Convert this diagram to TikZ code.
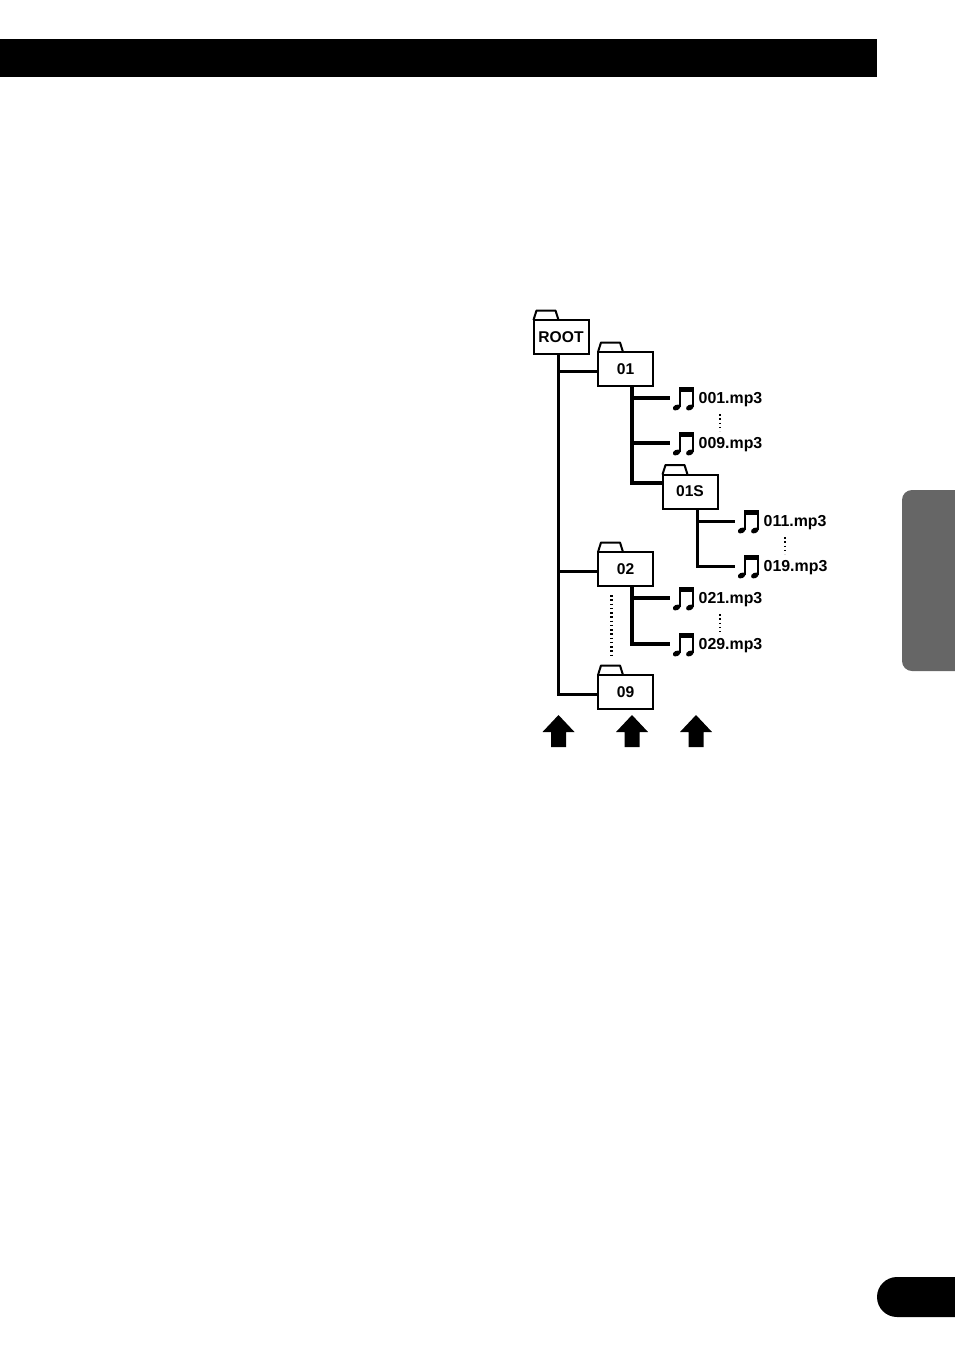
\documentclass[tikz,border=0pt]{standalone}
\usepackage{fontspec}
\setmainfont{Liberation Sans}
\definecolor{tabgray}{RGB}{102,102,102}
\tikzset{
  folderbox/.style={draw,line width=2pt,minimum width=55pt,minimum height=34pt,inner sep=0pt,outer sep=0pt,font=\fontsize{15.6}{15.6}\selectfont\bfseries},
  notebox/.style={minimum width=26pt,minimum height=22pt,inner sep=0pt,outer sep=0pt},
  mp3label/.style={anchor=base west,inner sep=0pt,font=\fontsize{15.9}{15.9}\selectfont\bfseries},
  wirethin/.style={line width=3pt},
  wirefat/.style={line width=4pt},
  dotline/.style={line width=2.4pt,dash pattern=on 1.7pt off 2.55pt},
  mp3note/.pic={
    \fill (-4,-11) rectangle (11,-6.5);
    \fill (-4,-11) rectangle (-2.2,8.5);
    \fill (9,-11) rectangle (11,8.5);
    \fill[rotate around={25:(-6.4,9.5)}] (-6.4,9.5) ellipse [x radius=4,y radius=2.7];
    \fill[rotate around={25:(6.8,9.5)}] (6.8,9.5) ellipse [x radius=4,y radius=2.7];
  }
}
\begin{document}
\begin{tikzpicture}[x=1pt,y=-1pt]
  \useasboundingbox (0,0) rectangle (954,1355);
  % page furniture
  \fill[black] (0,39) rectangle (877,77);
  \fill[tabgray,rounded corners=10pt] (902,490) rectangle (974,671);
  \fill[black,rounded corners=20pt] (877,1277) rectangle (994,1317);
  % folders
  \foreach \nm/\x/\y/\txt in {froot/561/337/ROOT, f01/625.5/369/01, f01s/690/491.5/01S, f02/625.5/569/02, f09/625.5/692/09} {
    \node[folderbox] (\nm) at (\x,\y) {\txt};
    \draw[line width=2pt,line join=round] (\nm.north west) -- ++(3,-9.5) -- ++(19,0) -- ++(3,9.5);
  }
  % tracks
  \foreach \id/\x/\y in {001/683/398, 009/683/443, 011/748/521, 019/748/566, 021/683/598, 029/683/644} {
    \node[notebox] (n\id) at (\x,\y) {};
    \pic at (n\id) {mp3note};
    \node[mp3label] (m\id) at ([xshift=15.5pt,yshift=-5.3pt]n\id.center) {\id.mp3};
  }
  \coordinate (t0) at ([xshift=-2.5pt]froot.south);
  \coordinate (t1) at ([xshift=6.5pt]f01.south);
  \coordinate (t2) at ([xshift=7pt]f01s.south);
  \coordinate (t3) at ([xshift=6.5pt]f02.south);
  \coordinate (j01) at ([yshift=-2pt]f01.west);
  \coordinate (j02) at ([yshift=-2pt]f02.west);
  \coordinate (j09) at ([yshift=-2pt]f09.west);
  % root level
  \draw[wirethin] (t0) |- (j09);
  \draw[wirethin] (t0 |- j01) -- (j01);
  \draw[wirethin] (t0 |- j02) -- (j02);
  % folder 01
  \draw[wirefat] (t1) |- ([yshift=8.5pt]f01s.west);
  \draw[wirefat] (t1 |- n001.west) -- (n001.west);
  \draw[wirefat] (t1 |- n009.west) -- (n009.west);
  % folder 01S
  \draw[wirethin] (t2) |- (n019.west);
  \draw[wirethin] (t2 |- n011.west) -- (n011.west);
  % folder 02
  \draw[wirefat] (t3) |- (n029.west);
  \draw[wirefat] (t3 |- n021.west) -- (n021.west);
  % dots
  \foreach \a/\b in {001/009, 011/019, 021/029} {
    \draw[dotline] ([xshift=37pt,yshift=-16pt]n\a.center) -- ([xshift=37pt,yshift=12pt]n\b.center);
  }
  \draw[dotline] ([xshift=-14pt,yshift=-9pt]f02.south) -- ([xshift=-14pt,yshift=19pt]f09.north);
  % level arrows
  \coordinate (a0) at (0,747);
  \foreach \c/\dx in {t0/0,t1/0,t2/-1} {
    \fill ([xshift=\dx pt]\c |- a0) ++(-7.5,0) -- ++(0,-15) -- ++(-8.5,0) -- ++(16,-17) -- ++(16,17) -- ++(-8.5,0) -- ++(0,15) -- cycle;
  }
\end{tikzpicture}
\end{document}
